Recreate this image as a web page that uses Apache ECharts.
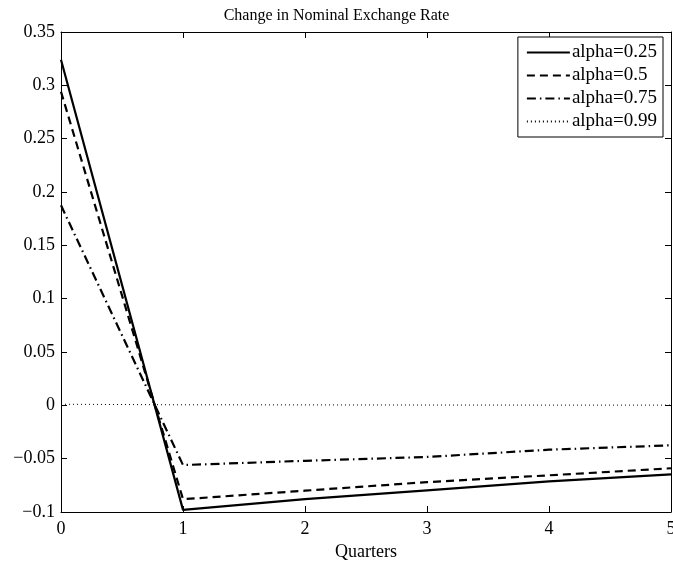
<!DOCTYPE html>
<html>
<head>
<meta charset="utf-8">
<script src="https://cdn.jsdelivr.net/npm/echarts@6/dist/echarts.min.js"></script>
<style>
html,body{margin:0;padding:0;background:#fff;}
#c{width:673px;height:563px;}
</style>
</head>
<body>
<div id="c"></div>
<script>
var quarters = [0, 1, 2, 3, 4, 5];
var alpha025 = [0.324, -0.098, -0.088, -0.0797, -0.0713, -0.0647];
var alpha05  = [0.294, -0.088, -0.080, -0.072, -0.0656, -0.059];
var alpha075 = [0.1875, -0.056, -0.052, -0.0484, -0.0416, -0.0375];
var alpha099 = [0.001, 0.0005, 0.0004, 0.0003, 0.0002, 0.0002];
var seriesNames = ['alpha=0.25', 'alpha=0.5', 'alpha=0.75', 'alpha=0.99'];
var yTicks = [-0.1, -0.05, 0, 0.05, 0.1, 0.15, 0.2, 0.25, 0.3, 0.35];

function pairs(ys){ return quarters.map(function(q,i){ return [q, ys[i]]; }); }
var font = 'Liberation Serif';
function fmtY(v){
  var s = String(Math.round(v*100)/100);
  return s.replace('-', '\u2212');
}
var chart = echarts.init(document.getElementById('c'), null, {renderer:'canvas'});
var tickStyle = {show:true, inside:true, length:6, lineStyle:{color:'#000', width:1}};
var option = {
  backgroundColor:'#fff',
  animation:false,
  title:{text:'Change in Nominal Exchange Rate', left:'center', top:3,
    textStyle:{fontFamily:font, fontWeight:'normal', fontSize:16, color:'#000'}},
  grid:{left:61, right:2, top:32, bottom:51, containLabel:false, outerBoundsMode:'none'},
  legend:{
    right:10, top:37, orient:'vertical', itemGap:4,
    itemWidth:43, itemHeight:12,
    backgroundColor:'#fff', borderColor:'#000', borderWidth:1, borderRadius:0,
    padding:[6,6,6,8],
    itemStyle:{opacity:0},
    textStyle:{fontFamily:font, fontSize:19, color:'#000', padding:[0,0,0,-3]},
    data:seriesNames
  },
  xAxis:[{
    type:'value', min:0, max:5, interval:1, position:'bottom',
    name:'Quarters', nameLocation:'middle', nameGap:23,
    nameTextStyle:{fontFamily:font, fontSize:18, color:'#000'},
    axisLine:{show:true, onZero:false, lineStyle:{color:'#000', width:1}},
    axisTick:tickStyle,
    axisLabel:{fontFamily:font, fontSize:18, color:'#000', margin:8, showMaxLabel:true, showMinLabel:true},
    splitLine:{show:false}
  },{
    type:'value', min:0, max:5, interval:1, position:'top',
    axisLine:{show:true, onZero:false, lineStyle:{color:'#000', width:1}},
    axisTick:tickStyle, axisLabel:{show:false}, splitLine:{show:false}
  }],
  yAxis:[{
    type:'value', min:-0.1, max:0.35, interval:0.05, position:'left',
    axisLine:{show:true, onZero:false, lineStyle:{color:'#000', width:1}},
    axisTick:tickStyle,
    axisLabel:{fontFamily:font, fontSize:18, color:'#000', margin:6, formatter:fmtY},
    splitLine:{show:false}
  },{
    type:'value', min:-0.1, max:0.35, interval:0.05, position:'right',
    axisLine:{show:true, onZero:false, lineStyle:{color:'#000', width:1}},
    axisTick:tickStyle, axisLabel:{show:false}, splitLine:{show:false}
  }],
  series:[
    {name:seriesNames[0], type:'line', data:pairs(alpha025), symbol:'none',
      lineStyle:{color:'#000', width:2.2, type:'solid'}, itemStyle:{color:'#000'}},
    {name:seriesNames[1], type:'line', data:pairs(alpha05), symbol:'none',
      lineStyle:{color:'#000', width:2.2, type:[8,5]}, itemStyle:{color:'#000'}},
    {name:seriesNames[2], type:'line', data:pairs(alpha075), symbol:'none',
      lineStyle:{color:'#000', width:2.2, type:[9,4,1.5,4]}, itemStyle:{color:'#000'}},
    {name:seriesNames[3], type:'line', data:pairs(alpha099), symbol:'none',
      lineStyle:{color:'#000', width:1, type:[1,3]}, itemStyle:{color:'#000'}}
  ]
};
chart.setOption(option);
</script>
</body>
</html>
